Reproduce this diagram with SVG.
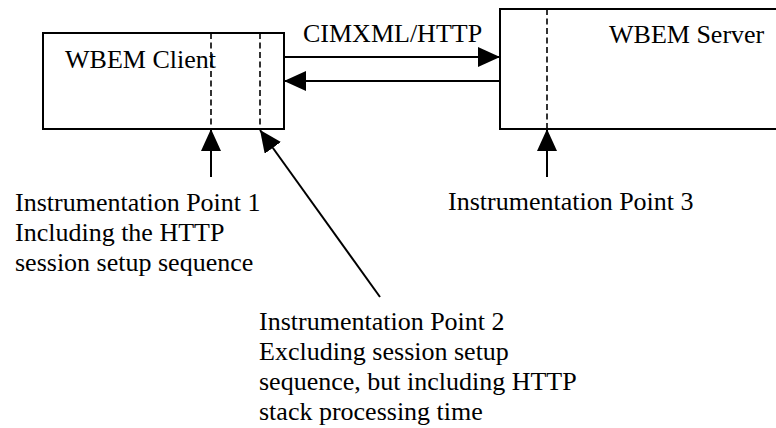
<svg xmlns="http://www.w3.org/2000/svg" width="776" height="428" viewBox="0 0 776 428">
  <style>
    .box { fill: #ffffff; stroke: #000000; stroke-width: 2; }
    .tap { stroke: #000000; stroke-width: 1.6; stroke-dasharray: 6 3.5; fill: none; }
    .link { stroke: #000000; stroke-width: 2; fill: none; }
    .txt { font-family: "Liberation Serif", "Times New Roman", serif; font-size: 26px; fill: #000000; }
  </style>
  <defs>
    <marker id="head" viewBox="0 0 22 20" refX="22" refY="10" markerWidth="22" markerHeight="20" markerUnits="userSpaceOnUse" orient="auto">
      <path d="M0,0 L22,10 L0,20 Z" fill="#000000"/>
    </marker>
  </defs>

  <rect width="776" height="428" fill="#ffffff"/>

  <!-- client process with its two measuring taps -->
  <g id="client">
    <rect class="box" x="43" y="33" width="241" height="96"/>
    <text class="txt" x="65" y="68">WBEM Client</text>
    <line class="tap" x1="211" y1="33" x2="211" y2="129"/>
    <line class="tap" x1="260" y1="33" x2="260" y2="129"/>
  </g>

  <!-- server process with its measuring tap -->
  <g id="server">
    <rect class="box" x="500" y="9" width="290" height="120"/>
    <text class="txt" x="609" y="43">WBEM Server</text>
    <line class="tap" x1="547" y1="9" x2="547" y2="129"/>
  </g>

  <g id="point1">
    <text class="txt" x="15" y="211">Instrumentation Point 1</text>
    <text class="txt" x="15" y="241">Including the HTTP</text>
    <text class="txt" x="15" y="271">session setup sequence</text>
  </g>

  <g id="point2">
    <text class="txt" x="259" y="330">Instrumentation Point 2</text>
    <text class="txt" x="259" y="360">Excluding session setup</text>
    <text class="txt" x="259" y="390">sequence, but including HTTP</text>
    <text class="txt" x="259" y="420">stack processing time</text>
  </g>

  <g id="point3">
    <text class="txt" x="448" y="210">Instrumentation Point 3</text>
  </g>

  <g id="connectors">
    <line class="link" x1="284" y1="57" x2="500" y2="57" marker-end="url(#head)"/>
    <text class="txt" x="303" y="42">CIMXML/HTTP</text>
    <line class="link" x1="500" y1="81" x2="284" y2="81" marker-end="url(#head)"/>
    <line class="link" x1="211" y1="177" x2="211" y2="129" marker-end="url(#head)"/>
    <line class="link" x1="547" y1="177" x2="547" y2="129" marker-end="url(#head)"/>
    <line class="link" x1="380" y1="297" x2="260" y2="130" marker-end="url(#head)"/>
  </g>
</svg>
